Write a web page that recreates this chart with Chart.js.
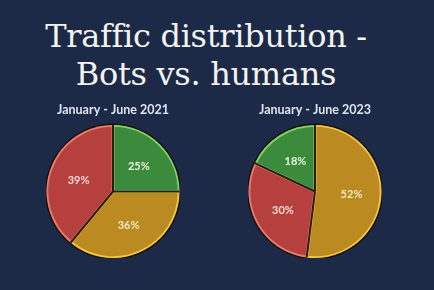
<!DOCTYPE html>
<html>
<head>
<meta charset="utf-8">
<script src="https://cdn.jsdelivr.net/npm/chart.js@4"></script>
<style>
  html, body { margin: 0; padding: 0; }
  body { width: 434px; height: 290px; background: #1c2a47; position: relative; overflow: hidden; }
  #title { position: absolute; left: 0; top: 17px; width: 412px; text-align: center;
           font-family: "DejaVu Serif", serif; font-size: 32px; line-height: 38px;
           color: #f3f3f0; letter-spacing: -0.3px; }
  .pie { position: absolute; top: 98px; width: 134px; height: 160px; }
  #pie1 { left: 46px; }
  #pie2 { left: 248px; }
</style>
</head>
<body>
<div id="title">Traffic distribution -<br>Bots vs. humans</div>
<div class="pie" id="pie1"><canvas id="c1"></canvas></div>
<div class="pie" id="pie2"><canvas id="c2"></canvas></div>
<script>
// datos (porcentaje de tráfico)
const labels2021 = ['Good bots', 'Humans', 'Bad bots'];
const values2021 = [25, 36, 39];
const colors2021 = ['#3c8a3b', '#bb8a20', '#b5403d'];
const borders2021 = ['#86d06c', '#f2c548', '#e57d72'];
const text2021 = ['#e6f6da', '#f6e8bd', '#f8d8d2'];

const labels2023 = ['Humans', 'Bad bots', 'Good bots'];
const values2023 = [52, 30, 18];
const colors2023 = ['#bb8a20', '#b5403d', '#3c8a3b'];
const borders2023 = ['#f2c548', '#e57d72', '#86d06c'];
const text2023 = ['#f6e8bd', '#f8d8d2', '#e6f6da'];

// Sombra oscura del borde, líneas radiales y etiquetas de porcentaje
const pieDecor = {
  id: 'pieDecor',
  beforeDatasetsDraw(chart) {
    const arcs = chart.getDatasetMeta(0).data;
    if (!arcs.length) return;
    const a = arcs[0];
    const ctx = chart.ctx;
    ctx.save();
    ctx.beginPath();
    ctx.arc(a.x, a.y, a.outerRadius + 1.5, 0, Math.PI * 2);
    ctx.fillStyle = '#15120e';
    ctx.fill();
    ctx.restore();
  },
  afterDatasetsDraw(chart) {
    const meta = chart.getDatasetMeta(0);
    const ds = chart.data.datasets[0];
    const ctx = chart.ctx;
    ctx.save();
    meta.data.forEach(arc => {
      ctx.beginPath();
      ctx.moveTo(arc.x, arc.y);
      ctx.lineTo(arc.x + Math.cos(arc.startAngle) * arc.outerRadius,
                 arc.y + Math.sin(arc.startAngle) * arc.outerRadius);
      ctx.strokeStyle = '#2a1c12';
      ctx.lineWidth = 2;
      ctx.stroke();
    });
    ctx.font = 'bold 11px Lato, sans-serif';
    ctx.textAlign = 'center';
    ctx.textBaseline = 'middle';
    meta.data.forEach((arc, i) => {
      const mid = (arc.startAngle + arc.endAngle) / 2;
      const r = arc.outerRadius * 0.55;
      ctx.fillStyle = ds.textColors[i];
      ctx.fillText(ds.data[i] + '%', arc.x + Math.cos(mid) * r, arc.y + Math.sin(mid) * r + 1);
    });
    ctx.restore();
  }
};

function createPie(canvasId, labels, values, colors, borders, textColors, title) {
  const ctx = document.getElementById(canvasId).getContext('2d');
  return new Chart(ctx, {
    type: 'pie',
    data: {
      labels: labels,
      datasets: [{
        data: values,
        backgroundColor: colors,
        borderColor: borders,
        borderWidth: 1.5,
        borderAlign: 'inner',
        hoverOffset: 0,
        textColors: textColors,
      }],
    },
    options: {
      responsive: true,
      maintainAspectRatio: false,
      animation: false,
      events: [],
      layout: { padding: 0 },
      plugins: {
        legend: { display: false },
        tooltip: { enabled: false },
        title: {
          display: true,
          text: title,
          color: '#dfe5ee',
          font: { family: 'Lato, sans-serif', size: 12.5, weight: 'bold' },
          padding: { top: 4, bottom: 8 },
        },
      },
    },
    plugins: [pieDecor],
  });
}

createPie('c1', labels2021, values2021, colors2021, borders2021, text2021, 'January - June 2021');
createPie('c2', labels2023, values2023, colors2023, borders2023, text2023, 'January - June 2023');
</script>
</body>
</html>
